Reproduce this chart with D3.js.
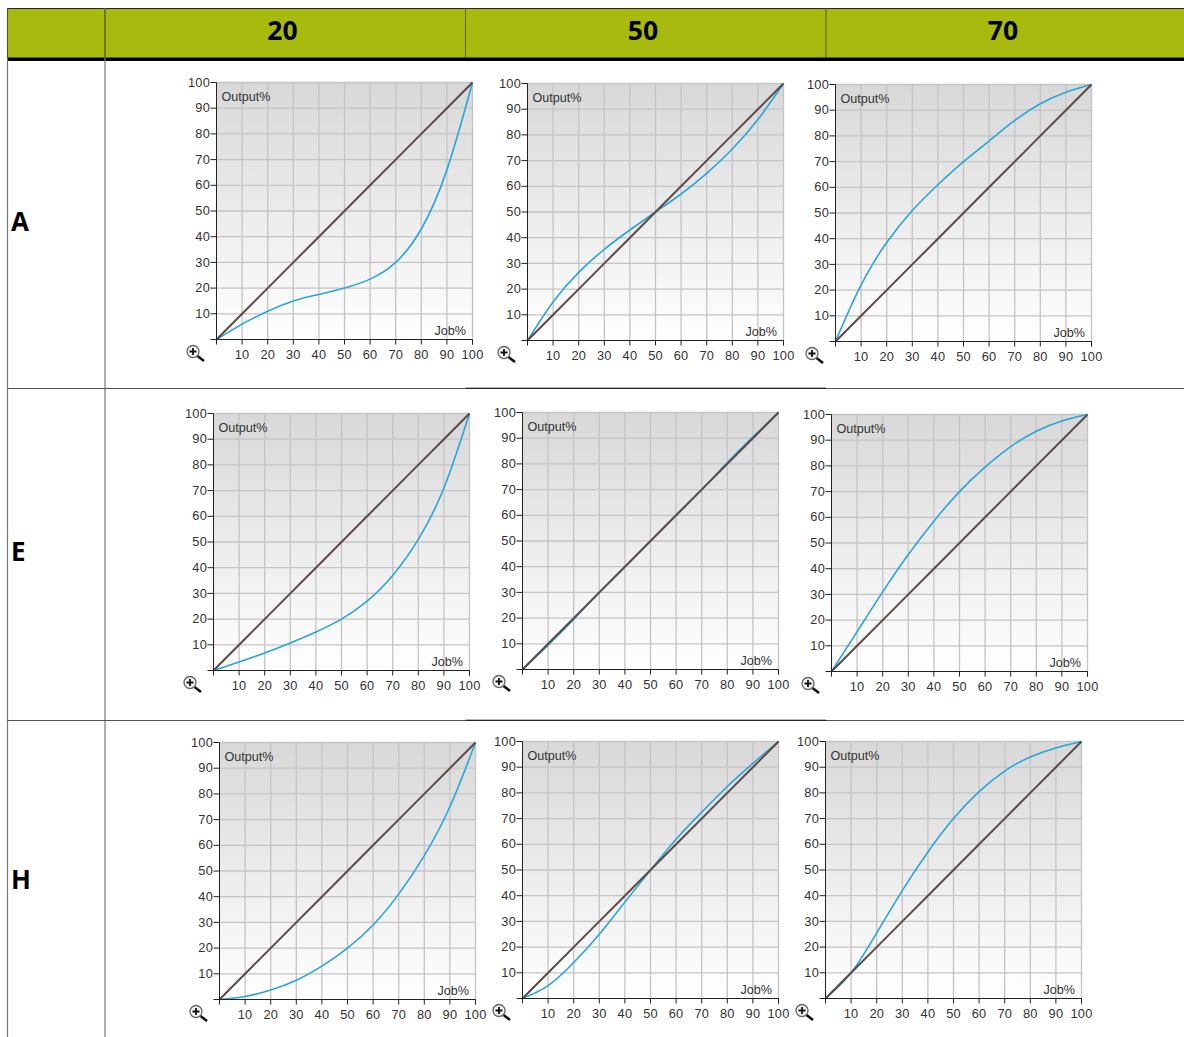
<!DOCTYPE html>
<html><head><meta charset="utf-8">
<script src="https://cdn.jsdelivr.net/npm/d3@7"></script>
<style>
html,body{margin:0;padding:0;background:#fff;overflow:hidden}
svg{display:block}
.tick text{font-family:"Liberation Sans",Arial,sans-serif;font-size:12.8px;fill:#333;letter-spacing:.2px}
.lab{font-family:"Liberation Sans",Arial,sans-serif;font-size:12.6px;fill:#333}
.hdr{font-family:"Open Sans","Noto Sans",sans-serif;font-weight:700;fill:#000}
</style></head><body>
<svg id="c" width="1184" height="1037"></svg>
<script>
const columns = ["20","50","70"];
const rows = ["A","E","H"];
const jobTicks = [10,20,30,40,50,60,70,80,90,100];
const jobPoints = [0,10,20,30,40,50,60,70,80,90,100];
const diagonal = [0,10,20,30,40,50,60,70,80,90,100];

const curveA20 = [0,6,11,15,17.5,20,23.5,30,43,66,100];
const curveA50 = [0,15,26.5,35.5,43,50,57,65,74.5,86,100];
const curveA70 = [0,22,38.5,51,61,70,78,86,92.5,97,100];
const curveE20 = [0,3.3,6.8,10.7,15,20,27,37,51,71,100];
const curveE50 = [0,9.5,19.5,30,40,50,60,70,80.5,90.5,100];
const curveE70 = [0,15.5,31,45.5,58.5,70,79.5,87.5,93.5,97.5,100];
const curveH20 = [0,1.2,3.7,7.5,13,20,29,41,56,75,100];
const curveH50 = [0,5,14,25,37.5,50,62,72.5,82.5,91.5,100];
const curveH70 = [0,10,25.5,42,57,70,80.5,88.5,94,97.5,100];
const curves = [[curveA20,curveA50,curveA70],[curveE20,curveE50,curveE70],[curveH20,curveH50,curveH70]];

// layout only
const plotLeft = [[216.5,527.5,835.5],[213.5,522.5,831.5],[219.5,522.5,825.5]];
const plotTop  = [[82.5,83.5,84.5],[413.5,412.5,414.5],[742.5,741.5,741.5]];
const plotW = 256, plotH = 257;
const colX = [7.5,105,465.5,826];
const headerX = [282.5,643,1003];
const sepY = [388.5,720.5];
const rowLabelY = [221,551,879];

const svg = d3.select("#c");
const defs = svg.append("defs");
const g = defs.append("linearGradient").attr("id","bg").attr("x1",0).attr("x2",0).attr("y1",0).attr("y2",1);
g.append("stop").attr("offset","0%").attr("stop-color","#d8d8d8");
g.append("stop").attr("offset","100%").attr("stop-color","#ffffff");

// table
svg.append("rect").attr("x",7).attr("y",8).attr("width",1177).attr("height",50).attr("fill","#a9ba0f");
svg.append("line").attr("x1",7).attr("x2",1184).attr("y1",8.5).attr("y2",8.5).attr("stroke","#222");
svg.append("rect").attr("x",7).attr("y",57.5).attr("width",1177).attr("height",3.5).attr("fill","#000");
colX.forEach((x,i)=>{
  if(i<2) svg.append("line").attr("x1",x).attr("x2",x).attr("y1",8).attr("y2",1037).attr("stroke","#777").attr("stroke-width",1.2);
  svg.append("line").attr("x1",x).attr("x2",x).attr("y1",8).attr("y2",58).attr("stroke","#555a10").attr("stroke-width",1);
});
sepY.forEach(y=>{
  svg.append("line").attr("x1",7).attr("x2",1184).attr("y1",y).attr("y2",y).attr("stroke","#555");
  svg.append("line").attr("x1",465.5).attr("x2",826).attr("y1",y-.3).attr("y2",y-.3).attr("stroke","#111");
});
columns.forEach((c,i)=>{
  svg.append("text").attr("class","hdr").attr("x",headerX[i]).attr("y",40).attr("text-anchor","middle").attr("font-size",26.5).text(c);
});
rows.forEach((r,i)=>{
  svg.append("text").attr("class","hdr").attr("x",11).attr("y",rowLabelY[i]+9.5).attr("font-size",26).text(r);
});

function icon(p){
  p.append("line").attr("x1",4.5).attr("y1",4.5).attr("x2",11).attr("y2",9.5).attr("stroke","#111").attr("stroke-width",2.6);
  p.append("circle").attr("r",6).attr("fill","#f4f4f4").attr("stroke","#666").attr("stroke-width",1.3);
  p.append("path").attr("d","M-3.5,0H3.5M0,-3.5V3.5").attr("stroke","#111").attr("stroke-width",1.8).attr("fill","none");
}

rows.forEach((r,ri)=>columns.forEach((c,ci)=>{
  const p = svg.append("g").attr("transform",`translate(${plotLeft[ri][ci]},${plotTop[ri][ci]})`);
  const x = d3.scaleLinear().domain([0,100]).range([0,plotW]);
  const y = d3.scaleLinear().domain([0,100]).range([plotH,0]);
  p.append("rect").attr("width",plotW).attr("height",plotH).attr("fill","url(#bg)");
  p.append("g").selectAll("line").data(jobTicks).join("line")
    .attr("x1",d=>x(d)).attr("x2",d=>x(d)).attr("y1",0).attr("y2",plotH).attr("stroke","#c4c4c4").attr("stroke-width",1.3);
  p.append("g").selectAll("line").data(jobTicks).join("line")
    .attr("x1",0).attr("x2",plotW).attr("y1",d=>y(d)).attr("y2",d=>y(d)).attr("stroke","#c4c4c4").attr("stroke-width",1.3);
  const line = d3.line().x((d,i)=>x(jobPoints[i])).y(d=>y(d));
  const smooth = d3.line().curve(d3.curveNatural).x((d,i)=>x(jobPoints[i])).y(d=>y(d));
  p.append("path").attr("d",smooth(curves[ri][ci])).attr("fill","none").attr("stroke","#2aa5d6").attr("stroke-width",1.6);
  p.append("path").attr("d",line(diagonal)).attr("fill","none").attr("stroke","#5d4a46").attr("stroke-width",2);
  const ax = p.append("g").attr("transform",`translate(0,${plotH})`)
    .call(d3.axisBottom(x).offset(0).tickValues(jobTicks).tickSize(5).tickSizeOuter(5).tickPadding(5.8));
  const ay = p.append("g").call(d3.axisLeft(y).offset(0).tickValues(jobTicks).tickSize(6).tickSizeOuter(0).tickPadding(.5));
  [ax,ay].forEach(a=>{a.selectAll("line,path").attr("stroke","#222");a.attr("font-family",null).attr("font-size",null)});
  p.append("line").attr("x1",-6).attr("x2",0).attr("y1",plotH).attr("y2",plotH).attr("stroke","#222");
  p.append("text").attr("class","lab").attr("x",5).attr("y",18.7).text("Output%");
  p.append("text").attr("class","lab").attr("x",plotW-6.5).attr("y",plotH-4.5).attr("text-anchor","end").text("Job%");
  icon(p.append("g").attr("transform",`translate(-23.5,${plotH+12})`));
}));
</script></body></html>
